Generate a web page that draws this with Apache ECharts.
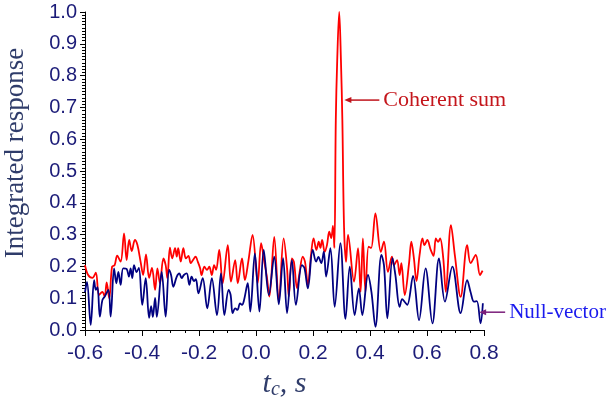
<!DOCTYPE html>
<html>
<head>
<meta charset="utf-8">
<script src="https://cdn.jsdelivr.net/npm/echarts@6/dist/echarts.min.js"></script>
<style>
  html, body { margin: 0; padding: 0; background: #ffffff; }
  #chart { width: 608px; height: 400px; }
</style>
</head>
<body>
<div id="chart"></div>
<script>
// Coherent sum response: time offsets (s) and integrated response
const coherentT = [
  -0.600, -0.589, -0.574, -0.562, -0.551, -0.539, -0.531, -0.524, -0.515, -0.505,
  -0.496, -0.487, -0.475, -0.463, -0.454, -0.445, -0.436, -0.425, -0.416, -0.405,
  -0.396, -0.386, -0.375, -0.365, -0.354, -0.346, -0.337, -0.325, -0.317, -0.311,
  -0.302, -0.294, -0.284, -0.278, -0.273, -0.264, -0.255, -0.246, -0.237, -0.229,
  -0.221, -0.212, -0.204, -0.196, -0.191, -0.181, -0.172, -0.164, -0.155, -0.147,
  -0.140, -0.129, -0.117, -0.099, -0.088, -0.073, -0.064, -0.049, -0.039, -0.027,
  -0.012, 0.006, 0.018, 0.029, 0.038, 0.047, 0.064, 0.080, 0.097, 0.109,
  0.115, 0.126, 0.133, 0.144, 0.153, 0.164, 0.172, 0.182, 0.193, 0.202,
  0.212, 0.220, 0.226, 0.232, 0.241, 0.249, 0.257, 0.264, 0.270, 0.275,
  0.280, 0.285, 0.292, 0.298, 0.303, 0.309, 0.316, 0.323, 0.344, 0.358,
  0.367, 0.375, 0.384, 0.395, 0.404, 0.419, 0.438, 0.449, 0.463, 0.477,
  0.484, 0.495, 0.504, 0.510, 0.522, 0.537, 0.545, 0.554, 0.563, 0.574,
  0.584, 0.591, 0.601, 0.613, 0.623, 0.631, 0.639, 0.646, 0.657, 0.666,
  0.684, 0.698, 0.718, 0.741, 0.753, 0.771, 0.786, 0.795
];
const coherentV = [
  0.204, 0.173, 0.164, 0.180, 0.110, 0.120, 0.105, 0.150, 0.100, 0.199,
  0.204, 0.234, 0.215, 0.304, 0.220, 0.283, 0.248, 0.283, 0.267, 0.215,
  0.173, 0.238, 0.164, 0.195, 0.126, 0.194, 0.147, 0.225, 0.204, 0.163,
  0.259, 0.225, 0.257, 0.231, 0.257, 0.215, 0.257, 0.225, 0.233, 0.210,
  0.220, 0.231, 0.214, 0.194, 0.173, 0.199, 0.189, 0.199, 0.173, 0.204,
  0.189, 0.252, 0.147, 0.267, 0.152, 0.220, 0.147, 0.225, 0.157, 0.215,
  0.299, 0.147, 0.273, 0.215, 0.168, 0.105, 0.293, 0.089, 0.288, 0.194,
  0.105, 0.225, 0.214, 0.131, 0.182, 0.231, 0.214, 0.142, 0.236, 0.288,
  0.252, 0.278, 0.258, 0.283, 0.246, 0.267, 0.309, 0.289, 0.327, 0.258,
  0.660, 0.849, 1.000, 0.849, 0.660, 0.321, 0.214, 0.299, 0.152, 0.257,
  0.120, 0.288, 0.120, 0.262, 0.258, 0.367, 0.246, 0.278, 0.183, 0.231,
  0.204, 0.220, 0.173, 0.210, 0.110, 0.210, 0.278, 0.226, 0.154, 0.236,
  0.288, 0.267, 0.283, 0.252, 0.233, 0.288, 0.277, 0.288, 0.226, 0.120,
  0.330, 0.233, 0.104, 0.267, 0.210, 0.236, 0.173, 0.187
];

// Null-vector response
const nullT = [
  -0.600, -0.593, -0.580, -0.568, -0.562, -0.556, -0.548, -0.539, -0.531, -0.518,
  -0.510, -0.498, -0.490, -0.483, -0.475, -0.466, -0.454, -0.446, -0.440, -0.434,
  -0.428, -0.419, -0.411, -0.399, -0.387, -0.375, -0.368, -0.362, -0.354, -0.348,
  -0.331, -0.317, -0.305, -0.298, -0.290, -0.278, -0.269, -0.261, -0.253, -0.243,
  -0.234, -0.226, -0.218, -0.211, -0.202, -0.187, -0.171, -0.155, -0.137, -0.123,
  -0.111, -0.096, -0.089, -0.082, -0.073, -0.065, -0.056, -0.049, -0.042, -0.029,
  -0.020, -0.004, 0.012, 0.027, 0.045, 0.064, 0.080, 0.095, 0.109, 0.126,
  0.140, 0.161, 0.170, 0.182, 0.199, 0.211, 0.219, 0.229, 0.238, 0.246,
  0.261, 0.276, 0.296, 0.314, 0.329, 0.346, 0.361, 0.373, 0.393, 0.405,
  0.419, 0.440, 0.449, 0.461, 0.479, 0.489, 0.504, 0.513, 0.522, 0.531,
  0.551, 0.572, 0.595, 0.619, 0.642, 0.663, 0.689, 0.718, 0.741, 0.753,
  0.765, 0.775, 0.788, 0.796
];
const nullV = [
  0.119, 0.151, 0.016, 0.157, 0.126, 0.135, 0.042, 0.094, 0.105, 0.126,
  0.042, 0.194, 0.147, 0.183, 0.142, 0.194, 0.192, 0.168, 0.194, 0.163,
  0.204, 0.182, 0.195, 0.079, 0.163, 0.038, 0.075, 0.041, 0.101, 0.041,
  0.183, 0.042, 0.189, 0.173, 0.136, 0.168, 0.178, 0.163, 0.173, 0.178,
  0.142, 0.168, 0.154, 0.160, 0.115, 0.163, 0.068, 0.163, 0.047, 0.178,
  0.047, 0.126, 0.110, 0.053, 0.068, 0.063, 0.084, 0.079, 0.094, 0.147,
  0.058, 0.241, 0.058, 0.252, 0.110, 0.231, 0.081, 0.226, 0.053, 0.220,
  0.079, 0.204, 0.195, 0.131, 0.252, 0.215, 0.230, 0.210, 0.246, 0.168,
  0.257, 0.073, 0.273, 0.035, 0.199, 0.047, 0.131, 0.047, 0.173, 0.120,
  0.010, 0.236, 0.204, 0.037, 0.226, 0.173, 0.073, 0.097, 0.088, 0.079,
  0.170, 0.031, 0.194, 0.021, 0.225, 0.089, 0.199, 0.053, 0.157, 0.119,
  0.089, 0.091, 0.021, 0.084
];

// Annotation anchors (arrow tips, in data units)
const coherentTip = [0.310, 0.723];
const nullTip = [0.783, 0.056];

const pairs = (ts, vs) => ts.map((t, i) => [t, vs[i]]);

const navy = '#1b1b78';
const titleColor = '#2f3c6a';

const chart = echarts.init(document.getElementById('chart'), null, { renderer: 'canvas' });

chart.setOption({
  animation: false,
  backgroundColor: '#ffffff',
  grid: { left: 85, right: 124, top: 12, bottom: 70, containLabel: false, outerBoundsMode: 'none' },
  xAxis: {
    type: 'value',
    min: -0.6,
    max: 0.8,
    interval: 0.2,
    name: '{i|t}{sub|c}{i|, s}',
    nameLocation: 'middle',
    nameGap: 32,
    nameTextStyle: {
      rich: {
        i: { fontFamily: 'Liberation Serif', fontStyle: 'italic', fontSize: 30, color: titleColor },
        sub: { fontFamily: 'Liberation Serif', fontStyle: 'italic', fontSize: 20, color: titleColor, padding: [12, 0, 0, 0] }
      }
    },
    axisLine: { onZero: false, lineStyle: { color: '#000000', width: 1 } },
    axisTick: { inside: false, length: 6, lineStyle: { color: '#000000' } },
    minorTick: { show: true, splitNumber: 4, length: 3, lineStyle: { color: '#000000' } },
    splitLine: { show: false },
    axisLabel: {
      margin: 13,
      color: navy,
      fontFamily: 'Liberation Sans',
      fontSize: 21,
      formatter: v => v.toFixed(1)
    }
  },
  yAxis: {
    type: 'value',
    min: 0,
    max: 1,
    interval: 0.1,
    name: 'Integrated response',
    nameLocation: 'middle',
    nameRotate: 90,
    nameGap: 56,
    nameTextStyle: { fontFamily: 'Liberation Serif', fontSize: 27, color: titleColor, padding: [0, 0, 0, 36] },
    axisLine: { show: true, onZero: false, lineStyle: { color: '#000000', width: 1 } },
    axisTick: { inside: false, length: 5, lineStyle: { color: '#000000' } },
    minorTick: { show: true, splitNumber: 10, length: 3, lineStyle: { color: '#000000' } },
    splitLine: { show: false },
    axisLabel: {
      margin: 8,
      color: navy,
      fontFamily: 'Liberation Sans',
      fontSize: 20,
      formatter: v => v.toFixed(1)
    }
  },
  series: [
    {
      name: 'Coherent sum',
      type: 'line',
      data: pairs(coherentT, coherentV),
      showSymbol: false,
      smooth: 0.35,
      clip: false,
      lineStyle: { color: '#ff0000', width: 1.8 },
      z: 2
    },
    {
      name: 'Null-vector',
      type: 'line',
      data: pairs(nullT, nullV),
      showSymbol: false,
      smooth: 0.35,
      clip: false,
      lineStyle: { color: '#000080', width: 1.8 },
      z: 3
    }
  ]
});

// Labelled arrows pointing at the two curves
function arrow(tip, len, lineColor, text, textColor, fontSize) {
  const p = chart.convertToPixel({ gridIndex: 0 }, tip);
  const x = p[0], y = p[1];
  return [
    { type: 'line', shape: { x1: x + 5, y1: y, x2: x + len, y2: y },
      style: { stroke: lineColor, lineWidth: 1.5 }, z: 10 },
    { type: 'polygon', shape: { points: [[x, y], [x + 7, y - 3], [x + 7, y + 3]] },
      style: { fill: lineColor }, z: 10 },
    { type: 'text', x: x + len + 4, y: y,
      style: { text: text, fill: textColor, font: fontSize + 'px "Liberation Serif"',
               verticalAlign: 'middle', align: 'left' }, z: 10 }
  ];
}

chart.setOption({
  graphic: [].concat(
    arrow(coherentTip, 35, '#c0141c', 'Coherent sum', '#c4161c', 22),
    arrow(nullTip, 26, '#7b1e7a', 'Null-vector', '#1a1aee', 21)
  )
});
</script>
</body>
</html>
